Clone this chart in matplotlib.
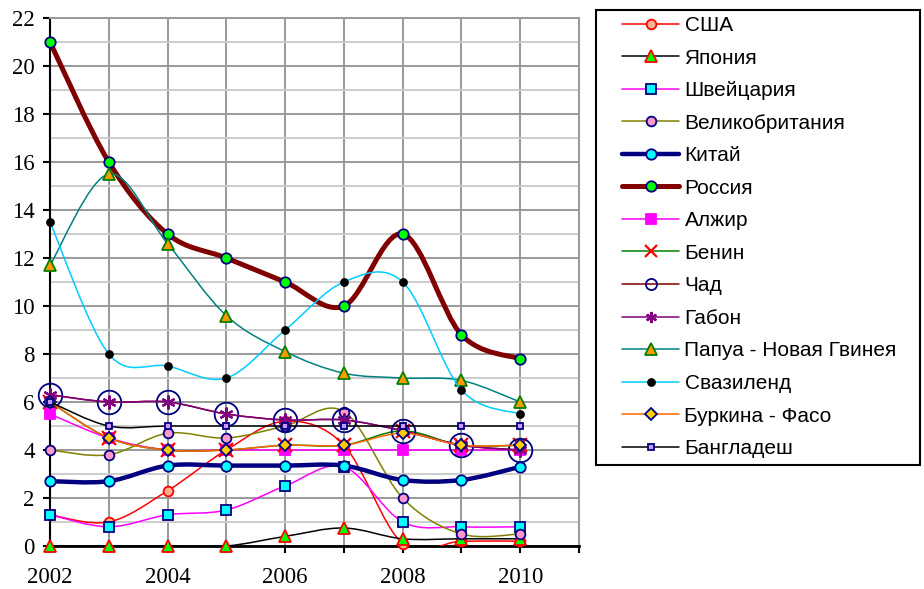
import numpy as np
import matplotlib
matplotlib.use('Agg')
import matplotlib.pyplot as plt
from matplotlib.path import Path
from matplotlib.patches import PathPatch, Rectangle
from matplotlib.lines import Line2D

years = [2002, 2003, 2004, 2005, 2006, 2007, 2008, 2009, 2010]

usa = [1.3, 1.0, 2.3, 4.0, 5.2, 4.2, 0.1, 0.2, 0.2]
japan = [0.0, 0.0, 0.0, 0.0, 0.4, 0.75, 0.3, 0.3, 0.3]
swiss = [1.3, 0.8, 1.3, 1.5, 2.5, 3.3, 1.0, 0.8, 0.8]
uk = [4.0, 3.8, 4.7, 4.5, 5.0, 5.6, 2.0, 0.5, 0.5]
china = [2.7, 2.7, 3.35, 3.35, 3.35, 3.35, 2.75, 2.75, 3.3]
russia = [21.0, 16.0, 13.0, 12.0, 11.0, 10.0, 13.0, 8.8, 7.8]
algeria = [5.5, 4.5, 4.0, 4.0, 4.0, 4.0, 4.0, 4.0, 4.0]
benin = [6.0, 4.5, 4.0, 4.0, 4.2, 4.2, 4.8, 4.2, 4.2]
chad = [6.3, 6.0, 6.0, 5.5, 5.25, 5.25, 4.8, 4.2, 4.0]
gabon = [6.3, 6.0, 6.0, 5.5, 5.25, 5.25, 4.8, 4.2, 4.0]
papua = [11.7, 15.5, 12.6, 9.6, 8.1, 7.2, 7.0, 6.9, 6.0]
swazi = [13.5, 8.0, 7.5, 7.0, 9.0, 11.0, 11.0, 6.5, 5.5]
burkina = [6.0, 4.5, 4.0, 4.0, 4.2, 4.2, 4.7, 4.2, 4.2]
bangla = [6.0, 5.0, 5.0, 5.0, 5.0, 5.0, 5.0, 5.0, 5.0]

# name, values, line colour, line width, marker, size, face, edge
series = [
    ('США', usa, '#ff0000', 1.1, 'o', 7, '#ffb08c', '#ff0000'),
    ('Япония', japan, '#000000', 1.1, '^', 8, '#00ff00', '#ff0000'),
    ('Швейцария', swiss, '#ff00ff', 1.1, 's', 7.5, '#00ffff', '#000080'),
    ('Великобритания', uk, '#808000', 1.1, 'o', 7, '#ff99cc', '#000080'),
    ('Китай', china, '#000080', 3.2, 'o', 7.5, '#00ffff', '#000080'),
    ('Россия', russia, '#800000', 3.6, 'o', 7.5, '#00ff00', '#000080'),
    ('Алжир', algeria, '#ff00ff', 1.1, 's', 7, '#ff00ff', '#ff00ff'),
    ('Бенин', benin, '#008000', 1.1, 'x', 10, '#ff0000', '#ff0000'),
    ('Чад', chad, '#800000', 1.1, 'o', 17, 'none', '#000080'),
    ('Габон', gabon, '#800080', 1.1, (6, 2, 0), 10, '#800080', '#800080'),
    ('Папуа - Новая Гвинея', papua, '#008080', 1.1, '^', 9, '#ff9900', '#008000'),
    ('Свазиленд', swazi, '#00ccff', 1.1, 'o', 5, '#000000', '#000000'),
    ('Буркина - Фасо', burkina, '#ff6600', 1.1, 'D', 6.5, '#ffcc00', '#000080'),
    ('Бангладеш', bangla, '#000000', 1.1, 's', 4.5, '#cc99ff', '#000080'),
]


def smooth_path(x, y):
    # bezier segments through the points, like a spreadsheet "smoothed line"
    p = np.column_stack([x, y]).astype(float)
    n = len(p)
    verts = [p[0]]
    codes = [Path.MOVETO]
    for i in range(n - 1):
        p0 = p[i - 1] if i > 0 else p[i]
        p3 = p[i + 2] if i + 2 < n else p[i + 1]
        c1 = p[i] + (p[i + 1] - p0) / 6.0
        c2 = p[i + 1] - (p3 - p[i]) / 6.0
        verts += [c1, c2, p[i + 1]]
        codes += [Path.CURVE4] * 3
    return Path(verts, codes)


W, H = 924, 589
fig = plt.figure(figsize=(W / 100, H / 100), dpi=100)
ax = fig.add_axes([50 / W, 43 / H, 529 / W, 528 / H])

handles = []
for k, (name, vals, lc, lw, mk, ms, fc, ec) in enumerate(series):
    z = 3 + k
    ax.add_patch(PathPatch(smooth_path(years, vals), facecolor='none',
                           edgecolor=lc, lw=lw, zorder=z, capstyle='round',
                           joinstyle='round'))
    mew = 1.6 if mk in ('x', (6, 2, 0)) else 1.3
    ax.plot(years, vals, linestyle='none', marker=mk, ms=ms, mfc=fc, mec=ec,
            mew=mew, zorder=z + 0.5, clip_on=False)
    handles.append(Line2D([], [], color=lc, lw=lw, marker=mk,
                          ms=min(ms, 8), mfc=fc, mec=ec, mew=mew,
                          solid_capstyle='round'))

ax.set_xlim(2002, 2011)
ax.set_ylim(0, 22)
ax.set_xticks(range(2002, 2012))
ax.set_xticklabels([str(y) if y % 2 == 0 and y < 2011 else '' for y in range(2002, 2012)])
ax.set_yticks(range(0, 23, 2))
ax.set_yticks(range(1, 22, 2), minor=True)
ax.grid(True, which='major', color='#999999', lw=1.4, zorder=0)
ax.grid(True, which='minor', axis='y', color='#cccccc', lw=1.4, zorder=0)
ax.tick_params(axis='both', which='major', direction='out', length=5, width=1.5,
               labelsize=16.5, colors='#000000')
ax.tick_params(axis='y', which='minor', length=0)
ax.tick_params(axis='x', pad=10)
ax.tick_params(axis='y', pad=6)
for lab in ax.get_xticklabels() + ax.get_yticklabels():
    lab.set_family('Liberation Serif')
ax.spines['left'].set_linewidth(1.5)
ax.spines['bottom'].set_linewidth(2.0)
for side in ('top', 'right'):
    ax.spines[side].set_color('#999999')
    ax.spines[side].set_linewidth(1.4)

# legend box
fig.patches.append(Rectangle((596 / W, 1 - 465 / H), 324 / W, 455 / H,
                             transform=fig.transFigure, fill=False,
                             edgecolor='#000000', lw=1.5))
leg = fig.legend(handles, [s[0] for s in series], loc='upper left',
                 bbox_to_anchor=(622 / W, 1 - 16 / H),
                 prop={'family': 'Liberation Sans', 'size': 15},
                 handlelength=2.75, handletextpad=0.25, labelspacing=0.65,
                 borderpad=0, borderaxespad=0, frameon=False)

fig.savefig('out.png', dpi=100)
